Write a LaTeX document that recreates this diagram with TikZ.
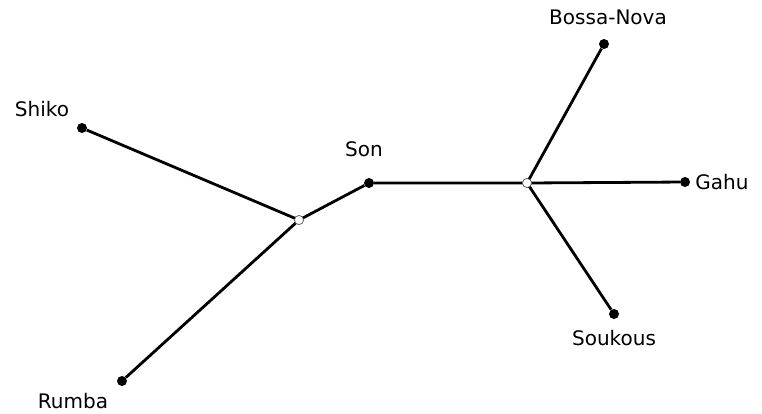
\documentclass[tikz,border=0pt]{standalone}
\usepackage{fontspec}
\setmainfont{DejaVu Sans}
\usepackage{tikz}
\usetikzlibrary{positioning}

\begin{document}
\begin{tikzpicture}[
  x=1pt, y=-1pt,
  leaf/.style={circle, fill=black, inner sep=0pt, minimum size=10pt},
  inner/.style={circle, draw=black!60, fill=white, line width=0.7pt, inner sep=0pt, minimum size=9pt},
  lbl/.style={font=\fontsize{20}{24}\selectfont},
  edge/.style={line width=2.8pt},
]
\useasboundingbox (0,0) rectangle (762,413);
% tree
\node[inner] (l) at (299,220) {};
\node[inner] (r) at (527,183) {};
\node[leaf] (shiko) at (82,128) {};
\node[leaf] (rumba) at (122,381) {};
\node[leaf] (son) at (369,183) {};
\node[leaf] (bossa) at (604,44) {};
\node[leaf] (gahu) at (685,182) {};
\node[leaf] (soukous) at (614,314) {};
\draw[edge] (shiko) -- (l.center) -- (rumba);
\draw[edge] (l.center) -- (son) -- (r.center);
\draw[edge] (bossa) -- (r.center) -- (gahu);
\draw[edge] (r.center) -- (soukous);
\node[inner] at (l) {};
\node[inner] at (r) {};
% labels
\node[lbl] (shikolbl) at (42,109) {Shiko};
\node[lbl] (rumbalbl) at (73,401) {Rumba};
\node[lbl] (sonlbl) at (364,149) {Son};
\node[lbl] (bossalbl) at (608,17) {Bossa-Nova};
\node[lbl] (gahulbl) at (722,182) {Gahu};
\node[lbl] (soukouslbl) at (614,338) {Soukous};
\end{tikzpicture}
\end{document}
